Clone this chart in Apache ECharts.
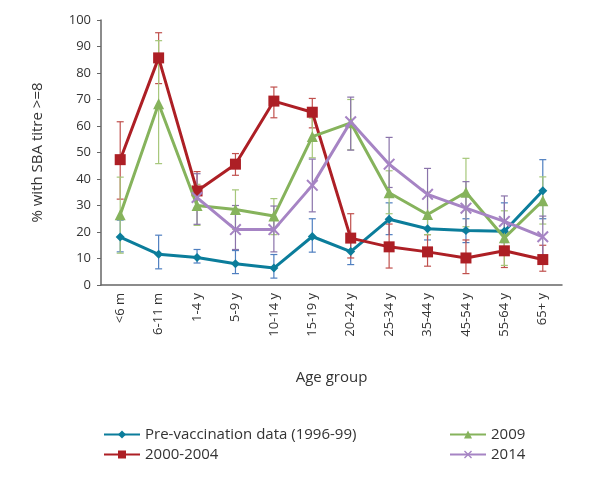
<!DOCTYPE html>
<html><head><meta charset="utf-8">
<script src="https://cdn.jsdelivr.net/npm/echarts@6/dist/echarts.min.js"></script>
<style>html,body{margin:0;padding:0;background:#fff}#c{width:597px;height:478px}</style>
</head><body><div id="c"></div>
<script>
const categories = ['<6 m','6-11 m','1-4 y','5-9 y','10-14 y','15-19 y','20-24 y','25-34 y','35-44 y','45-54 y','55-64 y','65+ y'];
const yTicks = [0,10,20,30,40,50,60,70,80,90,100];
const seriesNames = ['Pre-vaccination data (1996-99)','2000-2004','2009','2014'];

const preVac   = [18.1, 11.6, 10.4, 8.0, 6.4, 18.3, 12.6, 24.8, 21.2, 20.6, 20.3, 35.6];
const preVacLo = [12.5, 6.1, 8.3, 4.3, 2.6, 12.4, 7.7, 19, 17, 16, 14, 25];
const preVacHi = [24.5, 18.8, 13.4, 13, 11.5, 25.0, 18, 31, 26, 25, 31, 47.3];

const y0004   = [47.3, 85.7, 35.5, 45.6, 69.4, 65.2, 17.7, 14.4, 12.5, 10.2, 12.9, 9.6];
const y0004Lo = [32.4, 76, 29, 41.4, 63.1, 59.3, 10.2, 6.4, 7.1, 4.3, 6.6, 5.2];
const y0004Hi = [61.6, 95.2, 42.8, 49.6, 74.7, 70.4, 26.9, 23, 19, 17, 20, 15];

const y2009   = [26.5, 68.4, 30.0, 28.5, 26.0, 56.0, 61.2, 34.8, 26.6, 35.0, 17.8, 31.8];
const y2009Lo = [12.0, 45.8, 22.5, 21, 19, 48, 51, 26.9, 19, 22, 7.4, 23];
const y2009Hi = [40.7, 92.2, 38, 35.9, 32.6, 63, 70, 43.1, 35, 47.8, 28, 40.8];

const y2014   = [null, null, 33.0, 20.9, 20.9, 37.6, 61.6, 45.6, 34.2, 29.0, 24.0, 18.2];
const y2014Lo = [null, null, 22.9, 13.4, 12.5, 27.6, 50.9, 36.8, 25, 20, 16, 11];
const y2014Hi = [null, null, 42, 30, 29.8, 47.5, 70.9, 55.7, 44, 39, 33.6, 26];

const lineColors = ['#0b7d9b', '#ad1f25', '#86b35c', '#a684c4'];
const errColors  = ['#4f7fc0', '#c0504d', '#a6c77a', '#8a73aa'];
const symbols = ['diamond', 'rect', 'triangle', 'path://M0,1.2L1.2,0L5,3.8L8.8,0L10,1.2L6.2,5L10,8.8L8.8,10L5,6.2L1.2,10L0,8.8L3.8,5Z'];
const symSizes = [9, 11, 11, 12];

const vals = [preVac, y0004, y2009, y2014];
const los = [preVacLo, y0004Lo, y2009Lo, y2014Lo];
const his = [preVacHi, y0004Hi, y2009Hi, y2014Hi];

function errData(lo, hi) {
  const d = [];
  for (let i = 0; i < lo.length; i++) if (lo[i] != null) d.push([i, lo[i], hi[i]]);
  return d;
}
function errRender(color) {
  return function (params, api) {
    const x = api.value(0);
    const p1 = api.coord([x, api.value(1)]);
    const p2 = api.coord([x, api.value(2)]);
    const w = 3.5;
    const st = { stroke: color, lineWidth: 1.2 };
    return { type: 'group', children: [
      { type: 'line', shape: { x1: p1[0], y1: p1[1], x2: p2[0], y2: p2[1] }, style: st },
      { type: 'line', shape: { x1: p1[0]-w, y1: p1[1], x2: p1[0]+w, y2: p1[1] }, style: st },
      { type: 'line', shape: { x1: p2[0]-w, y1: p2[1], x2: p2[0]+w, y2: p2[1] }, style: st }
    ]};
  };
}

const series = [];
for (let s = 0; s < 4; s++) {
  series.push({
    type: 'custom', name: seriesNames[s] + ' err', renderItem: errRender(errColors[s]),
    data: errData(los[s], his[s]), encode: { x: 0, y: [1, 2] }, z: 1, silent: true
  });
}
for (let s = 0; s < 4; s++) {
  series.push({
    type: 'line', name: seriesNames[s], data: vals[s], z: 3 + s,
    symbol: symbols[s], symbolSize: symSizes[s], showSymbol: true,
    lineStyle: { width: 3, color: lineColors[s] },
    itemStyle: { color: lineColors[s] },
    connectNulls: false
  });
}

const font = 'Open Sans';
const chart = echarts.init(document.getElementById('c'));
chart.setOption({
  animation: false,
  textStyle: { fontFamily: font },
  grid: { left: 101, right: 35, top: 20, bottom: 193 },
  legend: [
    { data: [seriesNames[0], seriesNames[1]], orient: 'vertical', left: 98, top: 422, itemGap: 5,
      itemWidth: 36, itemHeight: 10, textStyle: { fontFamily: font, fontSize: 15, color: '#333' } },
    { data: [seriesNames[2], seriesNames[3]], orient: 'vertical', left: 444, top: 422, itemGap: 5,
      itemWidth: 36, itemHeight: 10, textStyle: { fontFamily: font, fontSize: 15, color: '#333' } }
  ],
  xAxis: {
    type: 'category', data: categories, boundaryGap: true,
    name: 'Age group', nameLocation: 'middle', nameGap: 85,
    nameTextStyle: { fontFamily: font, fontSize: 15, color: '#333' },
    axisLine: { lineStyle: { color: '#666', width: 1.5 } },
    axisTick: { show: false },
    axisLabel: { rotate: 90, fontFamily: font, fontSize: 13, color: '#333', margin: 8 }
  },
  yAxis: {
    type: 'value', min: yTicks[0], max: yTicks[yTicks.length - 1], interval: 10,
    name: '% with SBA titre >=8', nameLocation: 'middle', nameGap: 56, nameRotate: 90,
    nameTextStyle: { fontFamily: font, fontSize: 15, color: '#333' },
    axisLine: { show: true, lineStyle: { color: '#666', width: 1.5 } },
    axisTick: { show: true, length: 4, lineStyle: { color: '#666' } },
    splitLine: { show: false },
    axisLabel: { fontFamily: font, fontSize: 13, color: '#333', margin: 10 }
  },
  series: series
});
</script></body></html>
